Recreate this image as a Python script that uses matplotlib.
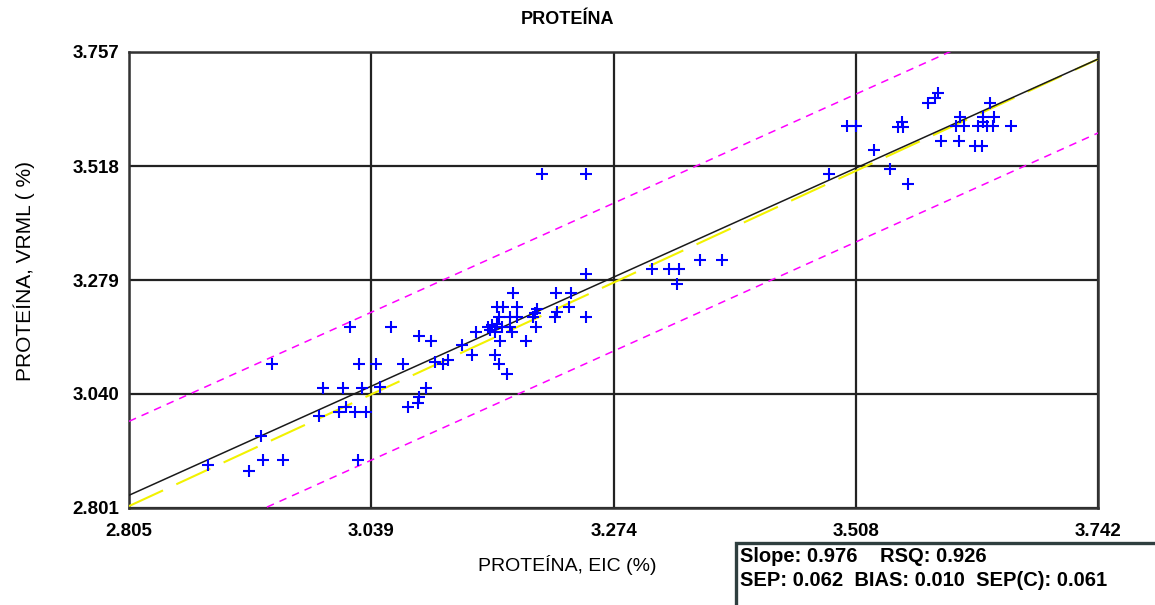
import matplotlib
matplotlib.use("Agg")
import matplotlib.pyplot as plt
from matplotlib.patches import Rectangle
import numpy as np

plt.rcParams['font.family'] = ['Liberation Sans', 'DejaVu Sans']

# ---- data ----
title = "PROTEÍNA"
xlabel = "PROTEÍNA, EIC (%)"
ylabel = "PROTEÍNA, VRML ( %)"
xticks = [2.805, 3.039, 3.274, 3.508, 3.742]
yticks = [2.801, 3.040, 3.279, 3.518, 3.757]
xtick_labels = ["2.805", "3.039", "3.274", "3.508", "3.742"]
ytick_labels = ["2.801", "3.040", "3.279", "3.518", "3.757"]

eic = [2.881, 2.921, 2.933, 2.935, 2.954, 2.943, 2.989, 2.993, 3.008, 3.012,
       3.015, 3.019, 3.024, 3.026, 3.027, 3.030, 3.034, 3.044, 3.048, 3.058,
       3.070, 3.075, 3.084, 3.085, 3.085, 3.092, 3.097, 3.101, 3.109, 3.113,
       3.127, 3.137, 3.141, 3.152, 3.154, 3.156, 3.159, 3.161, 3.166, 3.173,
       3.175, 3.159, 3.163, 3.171, 3.164, 3.189, 3.163, 3.173, 3.180, 3.196,
       3.161, 3.167, 3.180, 3.200, 3.198, 3.199, 3.176, 3.218, 3.232, 3.219,
       3.217, 3.230, 3.247, 3.247, 3.204, 3.247,
       3.311, 3.327, 3.337, 3.335, 3.357, 3.378,
       3.482, 3.499, 3.508, 3.525, 3.541, 3.558, 3.549, 3.553, 3.552, 3.578,
       3.584, 3.587, 3.590, 3.608, 3.623, 3.630, 3.605, 3.609, 3.612, 3.626,
       3.631, 3.631, 3.635, 3.638, 3.641, 3.640, 3.658]
vrml = [2.891, 2.879, 2.952, 2.902, 2.902, 3.103, 2.994, 3.053, 3.002, 3.053,
        3.013, 3.181, 3.002, 2.902, 3.103, 3.053, 3.002, 3.103, 3.055, 3.181,
        3.103, 3.013, 3.021, 3.034, 3.162, 3.053, 3.151, 3.107, 3.103, 3.111,
        3.143, 3.122, 3.170, 3.181, 3.174, 3.185, 3.170, 3.187, 3.181, 3.181,
        3.170, 3.122, 3.103, 3.082, 3.151, 3.151, 3.201, 3.201, 3.201, 3.201,
        3.222, 3.222, 3.222, 3.218, 3.210, 3.181, 3.252, 3.252, 3.252, 3.212,
        3.201, 3.222, 3.201, 3.292, 3.501, 3.501,
        3.302, 3.302, 3.302, 3.271, 3.321, 3.321,
        3.501, 3.602, 3.602, 3.552, 3.512, 3.480, 3.600, 3.600, 3.610, 3.650,
        3.661, 3.671, 3.570, 3.570, 3.560, 3.560, 3.602, 3.621, 3.602, 3.602,
        3.610, 3.621, 3.602, 3.650, 3.621, 3.602, 3.602]

slope = 0.976
intercept = 0.090
band = 0.155
stats_line1 = "Slope: 0.976    RSQ: 0.926"
stats_line2 = "SEP: 0.062  BIAS: 0.010  SEP(C): 0.061"

# ---- figure ----
W, H = 1155, 605
fig = plt.figure(figsize=(W / 100, H / 100), dpi=100)
ax = fig.add_axes([129 / W, 1 - 508 / H, (1098 - 129) / W, (508 - 52) / H])

xmin, xmax = xticks[0], xticks[-1]
ax.set_xlim(xmin, xmax)
ax.set_ylim(yticks[0], yticks[-1])

ax.set_xticks(xticks)
ax.set_xticklabels(xtick_labels, fontsize=13.5, fontweight='bold')
ax.set_yticks(yticks)
ax.set_yticklabels(ytick_labels, fontsize=13.5, fontweight='bold')
ax.tick_params(axis='both', length=0)
ax.tick_params(axis='x', pad=11)
ax.tick_params(axis='y', pad=7)
ax.grid(True, color='#222222', linewidth=1.6)
ax.set_axisbelow(True)
for s in ax.spines.values():
    s.set_color('#333333')
    s.set_linewidth(1.8)

xs = np.array([xmin, xmax])
reg = intercept + slope * xs
ax.plot(xs, reg + band, color='#FF00FF', linewidth=1.1, dashes=(5, 4), zorder=3)
ax.plot(xs, reg - band, color='#FF00FF', linewidth=1.1, dashes=(5, 4), zorder=3)
ax.plot(xs, xs, color='#F2F200', linewidth=1.5, dashes=(18, 7), zorder=3)
ax.plot(xs, reg, color='#1a1a1a', linewidth=1.1, zorder=4)

ax.plot(eic, vrml, linestyle='none', marker='+', markersize=8,
        markeredgewidth=1.5, color='#0000FF', zorder=5)

fig.text(567 / W, 1 - 20 / H, title, ha='center', va='center', fontsize=13,
         fontweight='bold')
fig.text(567 / W, 1 - 565 / H, xlabel, ha='center', va='center', fontsize=14)
fig.text(24 / W, 1 - 271 / H, ylabel, ha='center', va='center', fontsize=15,
         rotation=90)

box = Rectangle((736 / W, -0.05), 0.5, 0.05 + (1 - 543 / H),
                transform=fig.transFigure, facecolor='white',
                edgecolor='#2f3f3f', linewidth=2.4, clip_on=False)
fig.patches.append(box)
fig.text(740 / W, 1 - 557 / H, stats_line1, ha='left', va='center',
         fontsize=14.5, fontweight='bold')
fig.text(740 / W, 1 - 580 / H, stats_line2, ha='left', va='center',
         fontsize=14.5, fontweight='bold')

fig.savefig("out.png", dpi=100)
